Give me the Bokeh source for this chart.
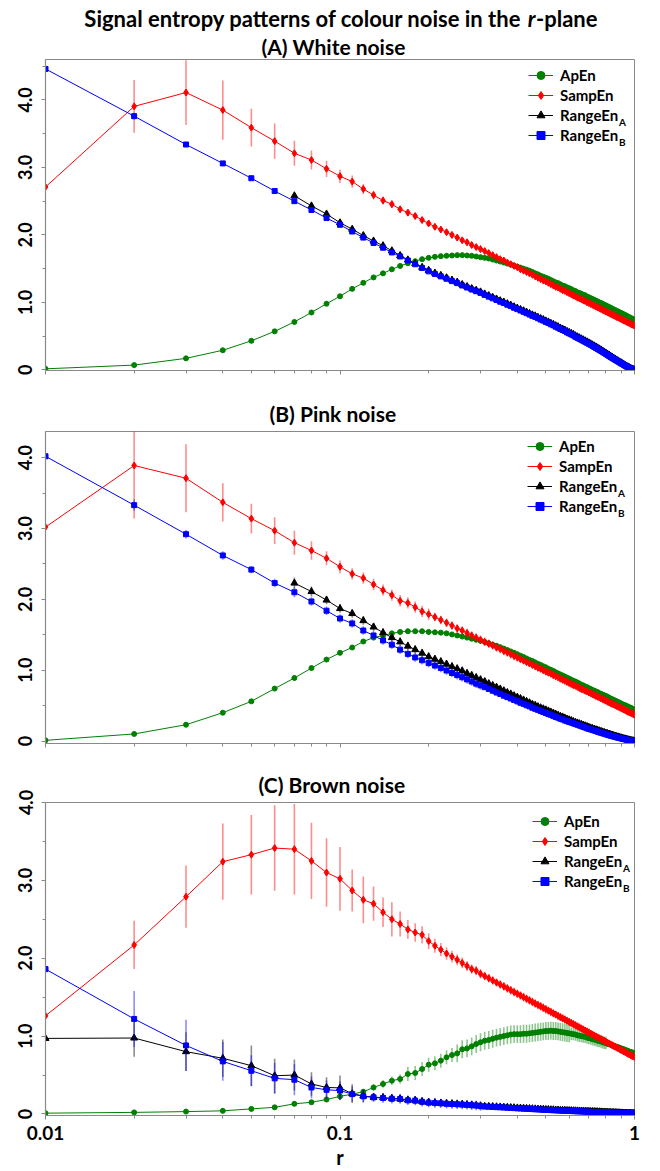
from bokeh.plotting import figure
from bokeh.models import (Range1d, FixedTicker, CustomJSTickFormatter, Legend,
                          LegendItem, Label)
from bokeh.layouts import column
from bokeh.embed import file_html
from bokeh.resources import INLINE

nan = float("nan")

# ---------------- data ----------------
r = [k / 100 for k in range(1, 101)]
x_ticks = [0.01, 0.1, 1.0]
x_minor = [0.02, 0.03, 0.04, 0.05, 0.06, 0.07, 0.08, 0.09,
           0.2, 0.3, 0.4, 0.5, 0.6, 0.7, 0.8, 0.9]
y_ticks = [0, 1, 2, 3, 4]
y_minor = [0.5, 1.5, 2.5, 3.5, 4.5]

series_labels = ["ApEn", "SampEn", "RangeEn", "RangeEn"]
series_subs = ["", "", "A", "B"]
panel_titles = ["(A) White noise", "(B) Pink noise", "(C) Brown noise"]
main_title_parts = ["Signal entropy patterns of colour noise in the ", "r", "-plane"]

# (A) White noise
white_apen = [0.015, 0.07, 0.17, 0.29, 0.43, 0.57, 0.71, 0.85, 0.98, 1.09, 1.20, 1.29, 1.37, 1.43, 1.49, 1.54, 1.58, 1.61, 1.64,
              1.66, 1.675, 1.685, 1.69, 1.695, 1.70, 1.70, 1.695, 1.69, 1.68, 1.67, 1.66, 1.65, 1.635, 1.62, 1.605, 1.59, 1.575, 1.56, 1.545,
              1.53, 1.515, 1.50, 1.485, 1.47, 1.45, 1.43, 1.415, 1.395, 1.38, 1.365, 1.35, 1.33, 1.313, 1.296, 1.285, 1.267, 1.248, 1.24, 1.222,
              1.21, 1.196, 1.177, 1.167, 1.148, 1.14, 1.127, 1.113, 1.104, 1.085, 1.075, 1.062, 1.05, 1.037, 1.025, 1.013, 1.00, 0.99, 0.977, 0.965,
              0.953, 0.942, 0.93, 0.919, 0.907, 0.896, 0.885, 0.874, 0.864, 0.853, 0.843, 0.832, 0.822, 0.812, 0.80, 0.79, 0.78, 0.77, 0.76, 0.75, 0.74]
white_sampen = [2.71, 3.905, 4.11, 3.85, 3.59, 3.39, 3.21, 3.11, 2.98, 2.87, 2.79, 2.68, 2.59, 2.51, 2.455, 2.38, 2.33, 2.28, 2.22,
                2.17, 2.12, 2.08, 2.04, 2.00, 1.96, 1.92, 1.89, 1.85, 1.82, 1.79, 1.76, 1.73, 1.70, 1.67, 1.64, 1.62, 1.59, 1.565, 1.54,
                1.52, 1.49, 1.47, 1.45, 1.43, 1.41, 1.385, 1.365, 1.345, 1.325, 1.31, 1.29, 1.27, 1.25, 1.23, 1.22, 1.20, 1.18, 1.17, 1.15,
                1.135, 1.12, 1.10, 1.09, 1.07, 1.06, 1.045, 1.03, 1.02, 1.00, 0.99, 0.976, 0.963, 0.95, 0.937, 0.924, 0.912, 0.90, 0.887, 0.875,
                0.863, 0.852, 0.84, 0.829, 0.817, 0.806, 0.795, 0.784, 0.774, 0.763, 0.753, 0.742, 0.732, 0.722, 0.712, 0.702, 0.692, 0.682, 0.672, 0.663, 0.653]
white_range_a = [nan, nan, nan, nan, nan, nan, 2.58, 2.43, 2.31, 2.18, 2.085, 1.99, 1.91, 1.84, 1.765, 1.695, 1.63, 1.575, 1.52,
                 1.475, 1.435, 1.40, 1.365, 1.33, 1.30, 1.265, 1.235, 1.205, 1.18, 1.155, 1.125, 1.10, 1.075, 1.05, 1.025, 1.005, 0.98, 0.96, 0.935,
                 0.915, 0.895, 0.875, 0.855, 0.835, 0.815, 0.80, 0.78, 0.76, 0.745, 0.725, 0.71, 0.69, 0.675, 0.655, 0.64, 0.62, 0.605, 0.59, 0.57,
                 0.555, 0.54, 0.525, 0.505, 0.49, 0.475, 0.46, 0.445, 0.43, 0.415, 0.40, 0.385, 0.37, 0.355, 0.34, 0.325, 0.31, 0.295, 0.28, 0.264,
                 0.248, 0.233, 0.218, 0.203, 0.188, 0.174, 0.16, 0.146, 0.132, 0.118, 0.105, 0.092, 0.08, 0.067, 0.055, 0.044, 0.033, 0.023, 0.014, 0.006, 0.0]
white_range_b = [4.46, 3.76, 3.34, 3.06, 2.84, 2.65, 2.50, 2.37, 2.25, 2.15, 2.05, 1.96, 1.88, 1.81, 1.74, 1.68, 1.62, 1.565, 1.51,
                 1.46, 1.42, 1.385, 1.35, 1.315, 1.285, 1.25, 1.22, 1.19, 1.165, 1.14, 1.11, 1.085, 1.06, 1.035, 1.01, 0.99, 0.965, 0.945, 0.92,
                 0.90, 0.88, 0.86, 0.84, 0.82, 0.80, 0.785, 0.765, 0.745, 0.73, 0.71, 0.695, 0.675, 0.66, 0.64, 0.625, 0.605, 0.59, 0.575, 0.555,
                 0.54, 0.525, 0.51, 0.49, 0.475, 0.46, 0.445, 0.43, 0.415, 0.40, 0.385, 0.37, 0.355, 0.34, 0.325, 0.31, 0.295, 0.28, 0.265, 0.25,
                 0.235, 0.22, 0.205, 0.19, 0.177, 0.163, 0.15, 0.137, 0.124, 0.111, 0.098, 0.086, 0.074, 0.062, 0.05, 0.04, 0.03, 0.021, 0.013, 0.006, 0.0]
white_apen_err = [0.005] * 10 + [0.012] * 90
white_sampen_err = ([0.0, 0.39, 0.48, 0.44, 0.28, 0.26, 0.185, 0.14, 0.12, 0.10, 0.09, 0.075, 0.065, 0.06, 0.055, 0.05, 0.048, 0.045, 0.043]
                    + [0.04] * 20 + [0.038] * 20 + [0.035] * 20 + [0.032] * 21)
white_range_a_err = [0.02] * 100
white_range_b_err = [0.01, 0.05, 0.03] + [0.02] * 97

# (B) Pink noise
pink_apen = [0.01, 0.10, 0.23, 0.40, 0.56, 0.74, 0.89, 1.03, 1.15, 1.245, 1.32, 1.405, 1.46, 1.49, 1.52, 1.54, 1.55, 1.55, 1.55,
             1.54, 1.535, 1.53, 1.52, 1.505, 1.49, 1.475, 1.46, 1.445, 1.43, 1.415, 1.40, 1.38, 1.36, 1.345, 1.325, 1.305, 1.285, 1.265, 1.245,
             1.225, 1.205, 1.185, 1.165, 1.145, 1.13, 1.11, 1.09, 1.075, 1.055, 1.04, 1.02, 1.005, 0.99, 0.97, 0.955, 0.94, 0.925, 0.91, 0.895,
             0.88, 0.865, 0.85, 0.84, 0.825, 0.81, 0.795, 0.785, 0.77, 0.76, 0.745, 0.735, 0.72, 0.71, 0.70, 0.69, 0.675, 0.665, 0.655, 0.645,
             0.635, 0.625, 0.61, 0.60, 0.59, 0.58, 0.57, 0.56, 0.55, 0.54, 0.53, 0.52, 0.51, 0.505, 0.495, 0.485, 0.475, 0.47, 0.46, 0.45, 0.445]
pink_sampen = [3.02, 3.89, 3.71, 3.37, 3.14, 2.97, 2.80, 2.69, 2.58, 2.46, 2.36, 2.30, 2.21, 2.13, 2.06, 1.98, 1.95, 1.89, 1.83,
               1.79, 1.75, 1.71, 1.67, 1.63, 1.59, 1.56, 1.525, 1.49, 1.46, 1.43, 1.40, 1.375, 1.35, 1.32, 1.30, 1.27, 1.25, 1.225, 1.20,
               1.18, 1.155, 1.135, 1.115, 1.095, 1.075, 1.055, 1.035, 1.02, 1.0, 0.98, 0.965, 0.95, 0.93, 0.915, 0.90, 0.88, 0.865, 0.85, 0.835,
               0.82, 0.805, 0.79, 0.78, 0.765, 0.75, 0.735, 0.725, 0.71, 0.70, 0.685, 0.675, 0.66, 0.65, 0.635, 0.625, 0.615, 0.60, 0.59, 0.58,
               0.57, 0.555, 0.545, 0.535, 0.525, 0.515, 0.505, 0.495, 0.485, 0.475, 0.465, 0.455, 0.445, 0.435, 0.425, 0.415, 0.405, 0.40, 0.39, 0.38, 0.37]
pink_range_a = [nan, nan, nan, nan, nan, nan, 2.23, 2.11, 1.99, 1.87, 1.80, 1.70, 1.61, 1.53, 1.46, 1.40, 1.34, 1.29, 1.24,
                1.19, 1.155, 1.12, 1.085, 1.05, 1.02, 0.99, 0.955, 0.925, 0.895, 0.865, 0.84, 0.81, 0.785, 0.76, 0.735, 0.71, 0.685, 0.665, 0.64,
                0.62, 0.60, 0.58, 0.56, 0.54, 0.52, 0.505, 0.485, 0.47, 0.455, 0.44, 0.425, 0.41, 0.395, 0.38, 0.365, 0.35, 0.34, 0.325, 0.31,
                0.30, 0.29, 0.275, 0.265, 0.255, 0.245, 0.235, 0.225, 0.215, 0.205, 0.195, 0.185, 0.177, 0.168, 0.16, 0.152, 0.144, 0.136, 0.128, 0.12,
                0.112, 0.105, 0.098, 0.09, 0.084, 0.077, 0.07, 0.064, 0.058, 0.052, 0.046, 0.04, 0.035, 0.03, 0.025, 0.02, 0.015, 0.011, 0.007, 0.003, 0.0]
pink_range_b = [4.02, 3.33, 2.92, 2.62, 2.42, 2.23, 2.10, 1.97, 1.84, 1.73, 1.66, 1.56, 1.49, 1.42, 1.36, 1.29, 1.23, 1.18, 1.14,
                1.10, 1.065, 1.03, 0.995, 0.96, 0.93, 0.90, 0.87, 0.84, 0.81, 0.785, 0.76, 0.735, 0.71, 0.685, 0.665, 0.64, 0.62, 0.60, 0.58,
                0.56, 0.54, 0.525, 0.505, 0.49, 0.47, 0.455, 0.44, 0.425, 0.41, 0.395, 0.38, 0.37, 0.355, 0.34, 0.33, 0.315, 0.305, 0.29, 0.28,
                0.27, 0.26, 0.25, 0.24, 0.23, 0.22, 0.21, 0.20, 0.19, 0.18, 0.172, 0.164, 0.156, 0.148, 0.14, 0.132, 0.124, 0.117, 0.11, 0.103,
                0.096, 0.089, 0.082, 0.076, 0.07, 0.064, 0.058, 0.052, 0.047, 0.042, 0.037, 0.032, 0.027, 0.023, 0.019, 0.015, 0.011, 0.008, 0.005, 0.002, 0.0]
pink_apen_err = [0.01] * 10 + [0.025] * 90
pink_sampen_err = ([0.0, 0.75, 0.48, 0.27, 0.21, 0.19, 0.17, 0.13, 0.10, 0.09]
                   + [0.08] * 10 + [0.06] * 20 + [0.05] * 60)
pink_range_a_err = [0.0] * 6 + [0.08, 0.07, 0.06] + [0.06] * 21 + [0.04] * 30 + [0.02] * 40
pink_range_b_err = [0.02, 0.08, 0.06, 0.06, 0.05, 0.06, 0.07, 0.06, 0.06] + [0.06] * 21 + [0.04] * 30 + [0.02] * 40

# (C) Brown noise
brown_apen = [0.01, 0.02, 0.03, 0.04, 0.065, 0.085, 0.13, 0.15, 0.185,
              0.226, 0.255, 0.285, 0.34, 0.385, 0.427, 0.449, 0.513, 0.526, 0.577, 0.633, 0.65, 0.684, 0.727, 0.757, 0.778, 0.83, 0.842, 0.868, 0.898, 0.92, 0.94,
              0.95, 0.965, 0.98, 0.99, 1.0, 1.01, 1.02, 1.025, 1.025, 1.025, 1.03, 1.03, 1.035, 1.04, 1.045, 1.05, 1.055, 1.06, 1.065, 1.065,
              1.07, 1.065, 1.065, 1.06, 1.055, 1.05, 1.045, 1.04, 1.035, 1.03, 1.025, 1.02, 1.01, 1.005, 1.0, 0.995, 0.99, 0.98, 0.975, 0.97,
              0.96, 0.955, 0.95, 0.94, 0.935, 0.93, 0.92, 0.915, 0.91, 0.90, 0.895, 0.89, 0.88, 0.875, 0.87, 0.86, 0.855, 0.85, 0.84, 0.835,
              0.83, 0.82, 0.815, 0.81, 0.80, 0.795, 0.79, 0.785, 0.78]
brown_sampen = [1.26, 2.17, 2.79, 3.24, 3.33, 3.415, 3.40, 3.25, 3.10,
                3.02, 2.87, 2.75, 2.70, 2.59, 2.50, 2.44, 2.37, 2.33, 2.30, 2.22, 2.16, 2.11, 2.06, 2.02, 1.98, 1.94, 1.90, 1.86, 1.84, 1.80,
                1.771, 1.743, 1.715, 1.688, 1.663, 1.638, 1.613, 1.589, 1.566, 1.544, 1.522, 1.5, 1.479, 1.459, 1.439, 1.419, 1.40, 1.382, 1.363, 1.345,
                1.327, 1.31, 1.293, 1.277, 1.26, 1.244, 1.228, 1.213, 1.198, 1.183, 1.168, 1.154, 1.139, 1.125, 1.112, 1.098, 1.085, 1.071, 1.059, 1.046,
                1.033, 1.021, 1.008, 0.996, 0.984, 0.972, 0.961, 0.949, 0.938, 0.927, 0.916, 0.905, 0.894, 0.883, 0.873, 0.862, 0.852, 0.842, 0.832, 0.822,
                0.812, 0.802, 0.793, 0.783, 0.774, 0.764, 0.755, 0.746, 0.737, 0.728]
brown_range_a = [0.97, 0.975, 0.80, 0.715, 0.62, 0.49, 0.50, 0.385, 0.34,
                 0.335, 0.26, 0.23, 0.215, 0.21, 0.20, 0.195, 0.18, 0.175, 0.16, 0.15, 0.145, 0.14, 0.135, 0.13, 0.127, 0.123, 0.119, 0.115, 0.11, 0.104, 0.098,
                 0.097, 0.095, 0.092, 0.09, 0.087, 0.085, 0.082, 0.08, 0.077, 0.075, 0.073, 0.071, 0.069, 0.067, 0.065, 0.063, 0.061, 0.059, 0.057, 0.056,
                 0.054, 0.053, 0.051, 0.05, 0.048, 0.047, 0.046, 0.044, 0.043, 0.042, 0.041, 0.04, 0.039, 0.038, 0.037, 0.036, 0.035, 0.034, 0.033, 0.032,
                 0.031, 0.03, 0.029, 0.028, 0.027, 0.026, 0.025, 0.024, 0.023, 0.022, 0.021, 0.02, 0.019, 0.018, 0.017, 0.016, 0.015, 0.014, 0.013, 0.012,
                 0.011, 0.011, 0.01, 0.01, 0.009, 0.009, 0.008, 0.008, 0.007]
brown_range_b = [1.86, 1.22, 0.88, 0.675, 0.555, 0.457, 0.44, 0.34, 0.31,
                 0.30, 0.255, 0.226, 0.213, 0.205, 0.195, 0.192, 0.175, 0.171, 0.155, 0.145, 0.14, 0.136, 0.13, 0.128, 0.124, 0.12, 0.116, 0.112, 0.108, 0.10, 0.094,
                 0.092, 0.09, 0.087, 0.085, 0.082, 0.08, 0.077, 0.075, 0.072, 0.07, 0.068, 0.066, 0.064, 0.062, 0.06, 0.058, 0.056, 0.054, 0.052, 0.051,
                 0.049, 0.048, 0.046, 0.045, 0.043, 0.042, 0.041, 0.039, 0.038, 0.037, 0.036, 0.035, 0.034, 0.033, 0.032, 0.031, 0.03, 0.029, 0.028, 0.027,
                 0.026, 0.025, 0.024, 0.023, 0.022, 0.022, 0.021, 0.02, 0.019, 0.018, 0.018, 0.017, 0.016, 0.015, 0.015, 0.014, 0.013, 0.013, 0.012, 0.011,
                 0.011, 0.01, 0.01, 0.009, 0.009, 0.008, 0.008, 0.007, 0.007]
brown_apen_err = ([0.005] * 9 + [0.02, 0.03, 0.035, 0.04, 0.05, 0.055, 0.06] + [0.09] * 8
                  + [0.115] * 36 + [0.08] * 20 + [0.04] * 20)
brown_sampen_err = ([0.0, 0.31, 0.40, 0.49, 0.51, 0.55, 0.58, 0.49, 0.44, 0.41,
                     0.27, 0.30, 0.22, 0.19, 0.22, 0.16, 0.12, 0.12, 0.11, 0.10, 0.09, 0.085, 0.08, 0.075, 0.07, 0.07, 0.065, 0.06, 0.06, 0.06]
                    + [0.055] * 20 + [0.05] * 20 + [0.04] * 30)
brown_range_a_err = [0.02, 0.24, 0.25, 0.24, 0.26, 0.22, 0.20, 0.15, 0.13, 0.16, 0.12, 0.08] + [0.05] * 18 + [0.03] * 30 + [0.015] * 40
brown_range_b_err = [0.02, 0.36, 0.33, 0.25, 0.20, 0.20, 0.20, 0.14, 0.12, 0.12, 0.10, 0.08] + [0.06] * 18 + [0.03] * 30 + [0.015] * 40

# ---------------- styling ----------------
FONT = "Lato"
GRAY = "#898989"
colors = ["#008000", "#ff0000", "#000000", "#0000ff"]
markers = ["circle", "diamond", "triangle", "square"]
msizes = [5, 7, 7, 5]

LEG_PAD = 3
LEG_ROW = 20
LEG_SPACING = 0
LEG_GLYPH_W = 25
LEG_STANDOFF = 7
RANGEEN_W = 58.5


def text_label(x, y, text, size, style="bold", align="center"):
    return Label(x=x, y=y, x_units="screen", y_units="screen", text=text,
                 text_font=FONT, text_font_size=size, text_font_style=style,
                 text_color="black", text_align=align, text_baseline="alphabetic")


def title_strip(height, labels):
    s = figure(width=660, height=height, x_range=Range1d(0, 1), y_range=Range1d(0, 1),
               x_axis_location=None, y_axis_location=None, title=None,
               toolbar_location=None, output_backend="svg", min_border=0,
               outline_line_color=None, background_fill_color="white",
               border_fill_color="white")
    s.xgrid.visible = False
    s.ygrid.visible = False
    for lab in labels:
        s.add_layout(lab)
    return s


def make_panel(title, title_offset, series, y_range, top, frame_h, bottom, standoff,
               show_x, legend_loc):
    height = top + frame_h + bottom
    p = figure(width=660, height=height, x_axis_type="log",
               x_range=Range1d(0.01, 1.0), y_range=Range1d(*y_range),
               output_backend="svg", toolbar_location=None,
               min_border_left=45, min_border_right=26,
               min_border_top=top, min_border_bottom=bottom,
               background_fill_color="white", border_fill_color="white")
    p.title.text = title
    p.title.align = "left"
    p.title.offset = title_offset
    p.title.text_font = FONT
    p.title.text_font_size = "21px"
    p.title.text_font_style = "bold"
    p.title.text_color = "black"
    p.title.standoff = standoff

    p.xgrid.visible = False
    p.ygrid.visible = False
    p.outline_line_color = GRAY
    p.outline_line_width = 1

    for ax in (p.xaxis[0], p.yaxis[0]):
        ax.axis_line_color = GRAY
        ax.axis_line_width = 1.2
        ax.major_tick_line_color = GRAY
        ax.minor_tick_line_color = GRAY
        ax.major_tick_in = 0
        ax.minor_tick_in = 0
        ax.major_tick_out = 4
        ax.minor_tick_out = 3
        ax.major_label_text_font = FONT
        ax.major_label_text_font_style = "bold"
        ax.major_label_text_color = "black"

    xa = p.xaxis[0]
    xa.ticker = FixedTicker(ticks=x_ticks, minor_ticks=x_minor)
    if show_x:
        xa.formatter = CustomJSTickFormatter(code="return String(Number(tick.toPrecision(3)));")
        xa.major_label_text_font_size = "19px"
        xa.major_label_standoff = 6
        xa.axis_label = "r"
        xa.axis_label_text_font = FONT
        xa.axis_label_text_font_size = "20px"
        xa.axis_label_text_font_style = "bold"
        xa.axis_label_text_color = "black"
        xa.axis_label_standoff = 2
    else:
        xa.formatter = CustomJSTickFormatter(code="return '';")
        xa.major_label_text_font_size = "1px"
        xa.major_label_standoff = 0

    ya = p.yaxis[0]
    ya.ticker = FixedTicker(ticks=y_ticks, minor_ticks=y_minor)
    ya.formatter = CustomJSTickFormatter(code="return tick == 0 ? '0' : tick.toFixed(1);")
    ya.major_label_orientation = "vertical"
    ya.major_label_text_font_size = "18px"
    ya.major_label_standoff = 9

    items = []
    for (vals, errs), color, mk, ms, lab in zip(series, colors, markers, msizes, series_labels):
        lo = [v - e for v, e in zip(vals, errs)]
        hi = [v + e for v, e in zip(vals, errs)]
        p.segment(x0=r, y0=lo, x1=r, y1=hi, line_color=color, line_alpha=0.45, line_width=1.6)
        ln = p.line(r, vals, line_color=color, line_width=1)
        sc = p.scatter(r, vals, marker=mk, size=ms, fill_color=color, line_color=color)
        items.append(LegendItem(label=lab, renderers=[ln, sc]))

    lx, ly = legend_loc
    legend = Legend(items=items, location=(lx, ly), orientation="vertical",
                    label_text_font=FONT, label_text_font_style="bold",
                    label_text_font_size="15px", label_text_color="black",
                    label_height=LEG_ROW, glyph_height=LEG_ROW, glyph_width=LEG_GLYPH_W,
                    label_standoff=LEG_STANDOFF, spacing=LEG_SPACING, padding=LEG_PAD, margin=0,
                    border_line_alpha=0, background_fill_alpha=0)
    p.add_layout(legend)

    leg_h = 2 * LEG_PAD + 4 * LEG_ROW + 3 * LEG_SPACING
    sub_x = lx + LEG_PAD + LEG_GLYPH_W + LEG_STANDOFF + RANGEEN_W
    for i, sub in enumerate(series_subs):
        if not sub:
            continue
        row_center = ly + leg_h - (LEG_PAD + i * (LEG_ROW + LEG_SPACING) + LEG_ROW / 2)
        p.add_layout(text_label(sub_x, row_center - 6, sub, "10px", align="left"))
    return p


# main title strip (screen x is measured from the aligned frame left edge)
stripA = title_strip(31, [
    text_label(481.7, 13, main_title_parts[0], "22px", align="right"),
    text_label(482.2, 13, main_title_parts[1], "22px", style="bold italic", align="left"),
    text_label(490.5, 13, main_title_parts[2], "22px", align="left"),
])
pA = make_panel(panel_titles[0], 216,
                [(white_apen, white_apen_err), (white_sampen, white_sampen_err),
                 (white_range_a, white_range_a_err), (white_range_b, white_range_b_err)],
                (-0.01, 4.6), 27, 312, 15, 1, False, (480, 222))
pB = make_panel(panel_titles[1], 224,
                [(pink_apen, pink_apen_err), (pink_sampen, pink_sampen_err),
                 (pink_range_a, pink_range_a_err), (pink_range_b, pink_range_b_err)],
                (-0.035, 4.37), 46, 312, 17, 12, False, (479, 224))
pC = make_panel(panel_titles[2], 213,
                [(brown_apen, brown_apen_err), (brown_sampen, brown_sampen_err),
                 (brown_range_a, brown_range_a_err), (brown_range_b, brown_range_b_err)],
                (-0.02, 4.0), 42, 313, 56, 12, True, (484, 221))

layout = column(stripA, pA, pB, pC, spacing=0)
open("out.html", "w").write(file_html(layout, INLINE))
